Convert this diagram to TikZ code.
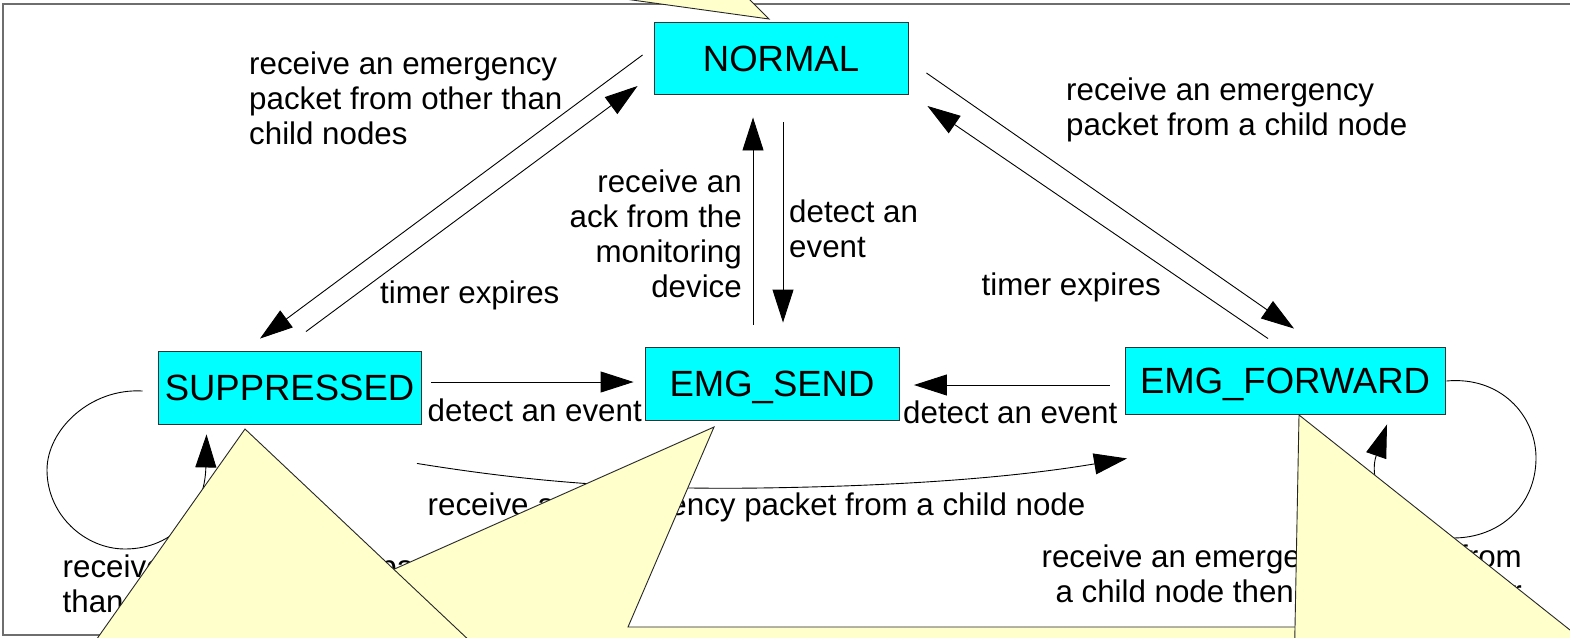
\documentclass[tikz,border=0pt]{standalone}
\usepackage{fontspec}
\setmainfont{Liberation Sans}
\usetikzlibrary{arrows.meta,calc}

\definecolor{statecyan}{HTML}{00FFFF}
\definecolor{calloutyellow}{HTML}{FFFFCC}
\definecolor{framegray}{HTML}{6E6E6E}

% multi-line label whose baseline is the first line
\newcommand{\lbltext}[2]{\begin{tabular}[t]{@{}#1@{}}#2\end{tabular}}

\tikzset{
  state/.style={draw=black!80, line width=0.9pt, fill=statecyan, inner sep=0pt,
    text height=26.1pt, text depth=0pt, font=\fontsize{36.5}{40}\selectfont},
  trans/.style={draw=black, line width=0.9pt, -{Triangle[length=33pt,width=21pt]}},
  lbl/.style={inner sep=0pt, font=\fontsize{31.3}{35}\selectfont},
  callout/.style={fill=calloutyellow, draw=black!85, line width=0.9pt, line join=miter},
  frameline/.style={draw=framegray, line width=1.3pt}
}

\begin{document}
\begin{tikzpicture}[x=1pt,y=-1pt]
\useasboundingbox (0,0) rectangle (1570,637);
\clip (0,0) rectangle (1570,637);

% outer frame
\draw[frameline] (3,4) rectangle (1600,635);

% states
\node[state, minimum width=254pt, minimum height=72pt] (normal) at (781,58) {NORMAL};
\node[state, minimum width=263pt, minimum height=73pt] (supp) at (289.5,387.5) {SUPPRESSED};
\node[state, minimum width=254pt, minimum height=73pt] (send) at (772,383.5) {EMG\_SEND};
\node[state, minimum width=320pt, minimum height=67pt] (fwd) at (1285,380.5) {EMG\_FORWARD};

% transitions
\draw[trans] ($(normal.west)+(-11,-3)$) -- ($(supp.north)+(-29.5,-12)$);
\draw[trans] ($(supp.north)+(16.5,-19)$) -- ($(normal.west)+(-16,28)$);
\draw[trans] ($(send.north)+(-19,-22)$) -- ($(normal.south)+(-28,23)$);
\draw[trans] ($(normal.south)+(2,28)$) -- ($(send.north)+(11,-24)$);
\draw[trans] ($(normal.east)+(18,15)$) -- ($(fwd.north)+(9,-18)$);
\draw[trans] ($(fwd.north)+(-17,-8)$) -- ($(normal.east)+(19,48)$);
\draw[trans] ($(supp.east)+(10,-5.5)$) -- ($(send.west)+(-11,-1.5)$);
\draw[trans] ($(fwd.west)+(-15,4.5)$) -- ($(send.east)+(14.5,1.5)$);
\draw[trans] ($(supp.south)+(127.5,39)$) .. controls (520,480) and (620,490) .. (760,488)
  .. controls (900,486) and (1010,478) .. ($(fwd.south)+(-158,44)$);
% self loops
\draw[trans] ($(supp.west)+(-15,3.5)$) .. controls (90,388) and (47,430) .. (47,470)
  .. controls (47,515) and (85,549) .. (125,549)
  .. controls (175,549) and (205,510) .. ($(supp.south)+(-83,10)$);
\draw[trans] ($(fwd.east)+(1,0.5)$) .. controls (1500,376) and (1536,415) .. (1536,458)
  .. controls (1536,505) and (1500,538) .. (1453,538)
  .. controls (1395,538) and (1366,485) .. ($(fwd.south)+(102,10)$);

% transition labels
\node[lbl, anchor=base west] (l1) at (249,74) {\lbltext{l}{receive an emergency\\packet from other than\\child nodes}};
\node[lbl, anchor=base west] (l2) at (380,303) {timer expires};
\node[lbl, anchor=base east] (l3) at (742,192) {\lbltext{r}{receive an\\ack from the\\monitoring\\device}};
\node[lbl, anchor=base west] (l4) at (789,222) {\lbltext{l}{detect an\\event}};
\node[lbl, anchor=base west] (l5) at (1066,100) {\lbltext{l}{receive an emergency\\packet from a child node}};
\node[lbl, anchor=base west] (l6) at (981.5,295) {timer expires};
\node[lbl, anchor=base west] (l7) at (427.5,421) {detect an event};
\node[lbl, anchor=base west] (l8) at (903,423) {detect an event};
\node[lbl, anchor=base west] (l9) at (427.5,515) {receive an emergency packet from a child node};
\node[lbl, anchor=base west] (l10) at (62.5,577) {\lbltext{l}{receive an emergency packet from other\\than child nodes then restart the timer}};
\node[lbl, anchor=base east] (l11) at (1522,567) {\lbltext{r}{receive an emergency packet from\\a child node then restart the timer}};

% note balloons laid over the chart
\draw[callout] (714,427) -- (628,627) -- (1400,627) -- (1400,700) -- (150,700) -- (150,627) -- (264,627) -- cycle;
\draw[callout] (245,429) -- (82,660) -- (490,660) -- cycle;
\draw[callout] (1299,415) -- (1294,680) -- (1633,680) -- cycle;
\draw[callout] (769,19) -- (344,-40) -- (710,-40) -- cycle;
\end{tikzpicture}
\end{document}
